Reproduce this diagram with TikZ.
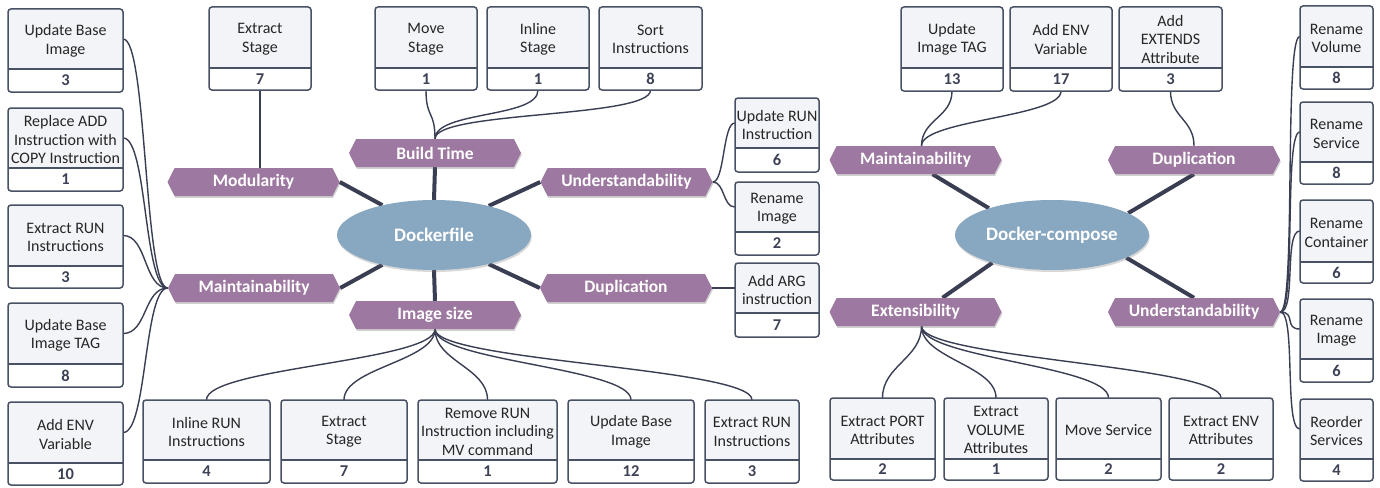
\documentclass[tikz,border=0pt]{standalone}
\usepackage{fontspec}
\setmainfont{Carlito}
\usetikzlibrary{shapes.symbols,shapes.geometric,shadows,calc}
\definecolor{lblc}{RGB}{157,120,160}
\definecolor{ellc}{RGB}{136,167,192}
\definecolor{boxf}{RGB}{243,244,247}
\definecolor{boxl}{RGB}{72,82,100}
\definecolor{connc}{RGB}{58,62,82}
\definecolor{numc}{RGB}{62,66,86}
\definecolor{txtc}{RGB}{38,38,38}
\pgfdeclarelayer{bg}
\pgfsetlayers{bg,main}
\newcommand\refbox[8]{%
  \fill[boxf,rounded corners=3pt] (#2,#3) rectangle (#4,#6);
  \begin{scope}
    \clip[rounded corners=3pt] (#2,#3) rectangle (#4,#6);
    \fill[white] (#2,#5) rectangle (#4,#6);
  \end{scope}
  \node[minimum width={(#4-#2)*1pt},minimum height={(#5-#3)*1pt},inner sep=0pt] (#1) at ({(#2+#4)/2},{(#3+#5)/2}) {};
  \node[boxtxt] at ($(#1.center)+(0,1.8)$) {#7};
  \node[numtxt,minimum width={(#4-#2)*1pt},minimum height={(#6-#5)*1pt}] (#1n) at ({(#2+#4)/2},{(#5+#6)/2}) {#8};
  \draw[boxl,line width=1.5pt,rounded corners=3pt] (#2,#3) rectangle (#4,#6);
  \draw[boxl,line width=1.5pt] (#2,#5) -- (#4,#5);
}
\begin{document}
\begin{tikzpicture}[x=1pt,y=-1pt,
  lbl/.style={signal, signal to=west and east, signal pointer angle=126, fill=lblc,
    minimum width=172pt, minimum height=28pt, inner sep=0pt, text=white,
    font=\bfseries\fontsize{17.5}{20}\selectfont,
    drop shadow={shadow xshift=0.8pt, shadow yshift=-1.8pt, opacity=0.3, fill=black!60}},
  ell/.style={ellipse, fill=ellc, minimum width=194pt, minimum height=70pt, inner sep=0pt,
    text=white, font=\bfseries\fontsize{19}{22}\selectfont,
    drop shadow={shadow xshift=0.8pt, shadow yshift=-2pt, opacity=0.25, fill=black!60}},
  conn/.style={draw=connc, line width=1.4pt},
  hub/.style={draw=connc, line width=4pt},
  boxtxt/.style={inner sep=0pt, align=center, text=txtc, font=\fontsize{16}{18.5}\selectfont},
  numtxt/.style={inner sep=0pt, text=numc, font=\bfseries\fontsize{16.5}{18}\selectfont},
]
\useasboundingbox (0,0) rectangle (1380,487);
\begin{pgfonlayer}{bg}
\fill[white] (0,0) rectangle (1380,487);
\end{pgfonlayer}

% labels and hubs
\node[lbl] (mod) at (253.5,182) {Modularity};
\node[lbl] (mainL) at (254,288) {Maintainability};
\node[lbl] (bt) at (435,153) {Build Time};
\node[lbl] (isz) at (435,315) {Image size};
\node[lbl] (undL) at (626.5,182) {Understandability};
\node[lbl] (dupL) at (626,288) {Duplication};
\node[ell] (dk) at (434,235) {Dockerfile};
\node[lbl] (mainR) at (915.5,160) {Maintainability};
\node[lbl] (dupR) at (1194,160) {Duplication};
\node[lbl] (ext) at (915.5,312) {Extensibility};
\node[lbl] (undR) at (1194,312) {Understandability};
\node[ell] (dc) at (1052,235) {Docker-compose};

% boxes
\refbox{L1}{8}{9}{123}{69}{92}{Update Base\\Image}{3}
\refbox{L2}{8}{108}{123}{168}{191}{Replace ADD\\Instruction with\\COPY Instruction}{1}
\refbox{L3}{8}{205}{123}{266}{288}{Extract RUN\\Instructions}{3}
\refbox{L4}{8}{303}{123}{364}{387}{Update Base\\Image TAG}{8}
\refbox{L5}{8}{402}{123}{463}{485}{Add ENV\\Variable}{10}
\refbox{T1}{209}{7}{311}{68}{90}{Extract\\Stage}{7}
\refbox{T2}{375}{7}{477}{68}{90}{Move\\Stage}{1}
\refbox{T3}{487}{7}{589}{68}{90}{Inline\\Stage}{1}
\refbox{T4}{599}{7}{702}{68}{90}{Sort\\Instructions}{8}
\refbox{R1}{735}{98}{819}{148}{172}{Update RUN\\Instruction}{6}
\refbox{R2}{735}{182}{819}{232}{255}{Rename\\Image}{2}
\refbox{R3}{735}{263}{819}{313}{337}{Add ARG\\instruction}{7}
\refbox{B1}{143}{400}{270}{460}{483}{Inline RUN\\Instructions}{4}
\refbox{B2}{281}{400}{407}{460}{483}{Extract\\Stage}{7}
\refbox{B3}{418}{400}{557}{460}{483}{Remove RUN\\Instruction including\\MV command}{1}
\refbox{B4}{568}{400}{694}{460}{483}{Update Base\\Image}{12}
\refbox{B5}{705}{400}{799}{460}{483}{Extract RUN\\Instructions}{3}
\refbox{RT1}{901}{7}{1003}{68}{91}{Update\\Image TAG}{13}
\refbox{RT2}{1010}{7}{1112}{68}{91}{Add ENV\\Variable}{17}
\refbox{RT3}{1119}{7}{1222}{68}{91}{Add\\EXTENDS\\Attribute}{3}
\refbox{RB1}{830}{398}{935}{459}{480}{Extract PORT\\Attributes}{2}
\refbox{RB2}{944}{398}{1048}{459}{480}{Extract\\VOLUME\\Attributes}{1}
\refbox{RB3}{1056}{398}{1161}{459}{480}{Move Service}{2}
\refbox{RB4}{1169}{398}{1273}{459}{480}{Extract ENV\\Attributes}{2}
\refbox{RC1}{1300}{6}{1373}{67}{89}{Rename\\Volume}{8}
\refbox{RC2}{1300}{102}{1373}{162}{184}{Rename\\Service}{8}
\refbox{RC3}{1300}{200}{1373}{262}{283}{Rename\\Container}{6}
\refbox{RC4}{1300}{299}{1373}{359}{382}{Rename\\Image}{6}
\refbox{RC5}{1300}{399}{1373}{459}{481}{Reorder\\Services}{4}

% connectors
\begin{pgfonlayer}{bg}
\foreach \b in {L1,L2,L3,L4,L5}
  \draw[conn] (\b.east) .. controls +(24,0) and +(-24,0) .. (mainL.west);
\draw[conn] (T1n.south) -- (T1n.south |- mod.north);
\foreach \b in {T2n,T3n,T4n}
  \draw[conn] (bt.north) .. controls +(0,-28) and +(0,28) .. (\b.south);
\foreach \b in {B1,B2,B3,B4,B5}
  \draw[conn] (isz.south) .. controls +(0,32) and +(0,-32) .. (\b.north);
\foreach \b in {R1,R2}
  \draw[conn] (undL.east) .. controls +(12,0) and +(-12,0) .. (\b.west);
\draw[conn] (dupL.east) -- (R3.west);
\foreach \b in {RT1n,RT2n}
  \draw[conn] ($(mainR.north)+(6,0)$) .. controls +(0,-26) and +(0,26) .. (\b.south);
\draw[conn] (dupR.north) .. controls +(0,-26) and +(0,26) .. (RT3n.south);
\foreach \b in {RB1,RB2,RB3,RB4}
  \draw[conn] ($(ext.south)+(6,0)$) .. controls +(0,32) and +(0,-32) .. (\b.north);
\foreach \b in {RC1,RC2,RC3,RC4,RC5}
  \draw[conn] (undR.east) .. controls +(16,0) and +(-16,0) .. (\b.west);
% hub lines
\draw[hub] (mod.east) -- (dk.150);
\draw[hub] (mainL.east) -- (dk.210);
\draw[hub] (bt.south) -- (dk.north);
\draw[hub] (isz.north) -- (dk.south);
\draw[hub] (undL.west) -- (dk.28);
\draw[hub] (dupL.west) -- (dk.332);
\draw[hub] ($(mainR.south)+(17,0)$) -- (dc.157);
\draw[hub] (dupR.south) -- (dc.16);
\draw[hub] ($(ext.north)+(27,0)$) -- (dc.205);
\draw[hub] (undR.north) -- (dc.343);
\end{pgfonlayer}
\end{tikzpicture}
\end{document}
